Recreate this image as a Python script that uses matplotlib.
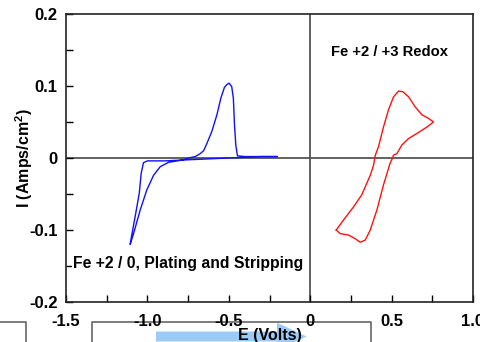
import matplotlib
matplotlib.use("Agg")
import matplotlib.pyplot as plt
from matplotlib.patches import Polygon
from matplotlib.lines import Line2D
import numpy as np

# ---- data ----
# Fe +2/0 plating & stripping (blue)
blue_E = [-0.205, -0.30, -0.40, -0.50, -0.60, -0.70, -0.80, -0.89, -0.95, -1.00,
          -1.024, -1.038, -1.050, -1.075, -1.10, -1.106,
          -1.085, -1.044, -1.003, -0.962, -0.921, -0.87, -0.79, -0.737, -0.706,
          -0.676, -0.655, -0.635, -0.604, -0.573, -0.549, -0.527, -0.512, -0.498,
          -0.482, -0.472, -0.465, -0.457, -0.447, -0.40, -0.30, -0.205]
blue_I = [0.002, 0.002, 0.001, 0.0, -0.001, -0.002, -0.003, -0.004, -0.004, -0.004,
          -0.0065, -0.021, -0.049, -0.081, -0.112, -0.120,
          -0.105, -0.072, -0.044, -0.024, -0.012, -0.006, -0.003, 0.0005, 0.002,
          0.006, 0.010, 0.020, 0.037, 0.060, 0.083, 0.098, 0.102, 0.104,
          0.099, 0.083, 0.046, 0.018, 0.003, 0.002, 0.002, 0.002]

# Fe +2/+3 redox (red)
red_E = [0.16, 0.205, 0.266, 0.317, 0.369, 0.389, 0.40, 0.42, 0.45, 0.481, 0.512,
         0.543, 0.569, 0.604, 0.645, 0.686, 0.727, 0.757,
         0.717, 0.655, 0.604, 0.563, 0.532, 0.512, 0.502, 0.491, 0.45, 0.41,
         0.369, 0.338, 0.307, 0.276, 0.235, 0.184, 0.16]
red_I = [-0.100, -0.086, -0.068, -0.051, -0.024, -0.010, 0.004, 0.016, 0.043, 0.067, 0.085,
         0.093, 0.092, 0.085, 0.071, 0.060, 0.055, 0.050,
         0.043, 0.034, 0.027, 0.018, 0.006, 0.004, -0.002, -0.007, -0.0375, -0.072,
         -0.100, -0.114, -0.117, -0.112, -0.107, -0.105, -0.100]

x_ticks = [-1.5, -1.0, -0.5, 0, 0.5, 1.0]
x_tick_labels = ["-1.5", "-1.0", "-0.5", "0", "0.5", "1.0"]
y_ticks = [-0.2, -0.1, 0, 0.1, 0.2]
y_tick_labels = ["-0.2", "-0.1", "0", "0.1", "0.2"]

W, H = 481, 342
plt.rcParams['font.family'] = ['Liberation Sans', 'DejaVu Sans']
plt.rcParams['font.weight'] = 'bold'
plt.rcParams['mathtext.fontset'] = 'custom'
plt.rcParams['mathtext.bf'] = 'Liberation Sans:bold'
plt.rcParams['mathtext.rm'] = 'Liberation Sans:bold'

fig = plt.figure(figsize=(W / 100, H / 100), dpi=100)
ax = fig.add_axes([66 / W, 1 - 302 / H, (473 - 66) / W, (302 - 14) / H])

def fx(px):
    return px / W

def fy(py):
    return 1 - py / H

# background slide artifacts
arrow = Polygon([(fx(156), fy(331.5)), (fx(277), fy(331.5)), (fx(277), fy(322.7)),
                 (fx(306.7), fy(336.5)), (fx(277), fy(350)), (fx(277), fy(341.5)),
                 (fx(156), fy(341.5))], closed=True, transform=fig.transFigure,
                facecolor='#9ccbf8', edgecolor='none', zorder=-1)
fig.add_artist(arrow)
for xs, ys in [([0, 26, 26], [321.7, 321.7, 345]),
               ([91.7, 91.7, 371, 371], [345, 321.7, 321.7, 345])]:
    fig.add_artist(Line2D([fx(v) for v in xs], [fy(v) for v in ys],
                          transform=fig.transFigure, color='#666666', lw=1.2, zorder=-0.5))

ax.axhline(0, color='#555555', lw=1.3, zorder=1)
ax.axvline(0, color='#555555', lw=1.3, zorder=1)
ax.plot(blue_E, blue_I, color='#1010ff', lw=1.0, zorder=3)
ax.plot(red_E, red_I, color='#ff1010', lw=1.0, zorder=3)

ax.set_xlim(-1.5, 1.0)
ax.set_ylim(-0.2, 0.2)
ax.set_xticks(x_ticks)
ax.set_xticklabels(x_tick_labels)
ax.set_yticks(y_ticks)
ax.set_yticklabels(y_tick_labels)
ax.set_xticks(np.arange(-1.25, 1.0, 0.5), minor=True)
ax.set_yticks(np.arange(-0.15, 0.2, 0.1), minor=True)
ax.tick_params(axis='both', which='both', direction='in', length=5, width=1,
               top=False, right=False, labelsize=12)
ax.tick_params(axis='x', which='major', pad=9)
ax.tick_params(axis='y', which='major', pad=6)
for s in ax.spines.values():
    s.set_linewidth(1.2)
    s.set_color('#222222')

ax.set_xlabel("E (Volts)", fontsize=11.5, fontweight='bold', labelpad=-1)
ax.set_ylabel("I (Amps/cm$^{2}$)", fontsize=11.5, fontweight='bold')
ax.yaxis.set_label_coords(-0.075, 0.5)

ax.text(0.49, 0.147, "Fe +2 / +3 Redox", fontsize=10.6, fontweight='bold',
        ha='center', va='center', zorder=4)
ax.text(-1.457, -0.146, "Fe +2 / 0, Plating and Stripping", fontsize=11.3,
        fontweight='bold', ha='left', va='center', zorder=4,
        bbox=dict(facecolor='white', edgecolor='none', pad=1))

fig.savefig("out.png", dpi=100)
